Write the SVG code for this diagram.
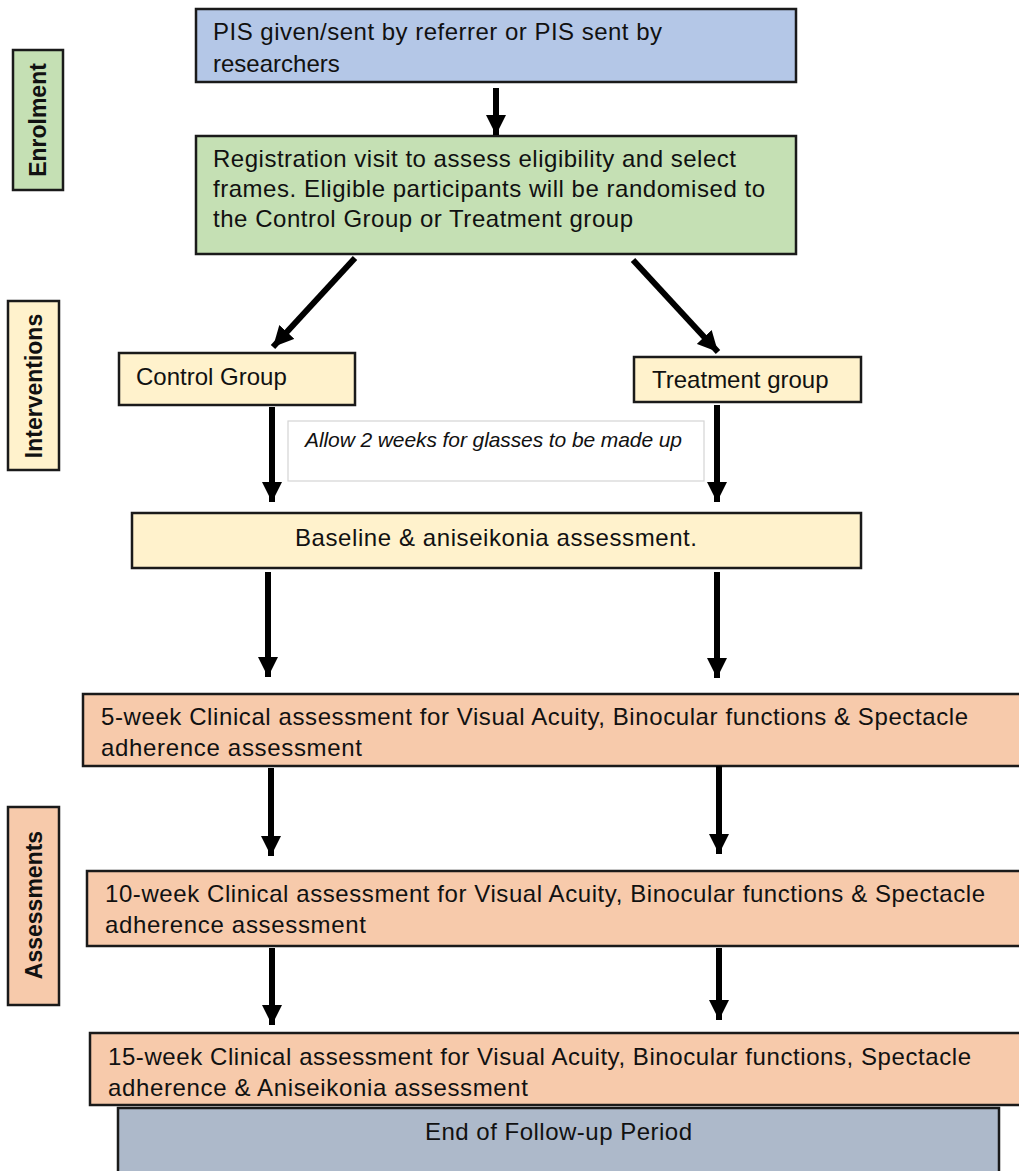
<svg xmlns="http://www.w3.org/2000/svg" width="1019" height="1171" viewBox="0 0 1019 1171">
<defs>
<style>
.box{stroke:#1a1a1a;stroke-width:2.5}
.blue{fill:#b4c7e7}
.green{fill:#c5e0b4}
.yellow{fill:#fff2cc}
.peach{fill:#f7caab}
.grey{fill:#adb9ca}
.t{font-family:"Liberation Sans",Arial,sans-serif;font-size:24px;fill:#111}
.lbl{font-family:"Liberation Sans",Arial,sans-serif;font-size:23px;font-weight:bold;fill:#111}
.it{font-family:"Liberation Sans",Arial,sans-serif;font-size:21px;font-style:italic;fill:#111}
.arr{stroke:#000;stroke-width:6;fill:none;marker-end:url(#ah)}
</style>
<marker id="ah" viewBox="0 0 10 10" refX="10" refY="5" markerWidth="3.4" markerHeight="3.4" orient="auto" markerUnits="strokeWidth">
<path d="M0,0 L10,5 L0,10 z" fill="#000"/>
</marker>
</defs>
<rect width="1019" height="1171" fill="#fff"/>

<g id="label-enrolment">
<rect class="box green" x="13" y="50" width="50" height="140"/>
<text class="lbl" transform="translate(46,120) rotate(-90)" text-anchor="middle">Enrolment</text>
</g>
<g id="label-interventions">
<rect class="box yellow" x="8" y="301" width="51" height="169"/>
<text class="lbl" transform="translate(42,386) rotate(-90)" text-anchor="middle">Interventions</text>
</g>
<g id="label-assessments">
<rect class="box peach" x="8" y="807" width="51" height="198"/>
<text class="lbl" transform="translate(42,905) rotate(-90)" text-anchor="middle">Assessments</text>
</g>

<g id="pis">
<rect class="box blue" x="196" y="9" width="600" height="73"/>
<text class="t" x="213" y="40" textLength="449" lengthAdjust="spacing">PIS given/sent by referrer or PIS sent by</text>
<text class="t" x="213" y="72">researchers</text>
</g>

<g id="registration">
<rect class="box green" x="196" y="136" width="600" height="118"/>
<text class="t" x="213" y="167" textLength="523" lengthAdjust="spacing">Registration visit to assess eligibility  and select</text>
<text class="t" x="213" y="197" textLength="552" lengthAdjust="spacing">frames. Eligible  participants will  be randomised to</text>
<text class="t" x="213" y="227" textLength="420" lengthAdjust="spacing">the Control Group or Treatment group</text>
</g>

<g id="control">
<rect class="box yellow" x="119" y="353" width="236" height="52"/>
<text class="t" x="136" y="385">Control Group</text>
</g>

<g id="treatment">
<rect class="box yellow" x="634" y="357" width="227" height="45"/>
<text class="t" x="652" y="388">Treatment group</text>
</g>

<g id="note">
<rect x="288" y="421" width="416" height="60" fill="#fff" stroke="#d4d4d4" stroke-width="1.2"/>
<text class="it" x="305" y="447" textLength="377" lengthAdjust="spacing">Allow 2 weeks for glasses to be made up</text>
</g>

<g id="baseline">
<rect class="box yellow" x="132" y="513" width="729" height="55"/>
<text class="t" x="295" y="546" textLength="402" lengthAdjust="spacing">Baseline  &amp; aniseikonia assessment.</text>
</g>

<g id="week5">
<rect class="box peach" x="83" y="694" width="940" height="72"/>
<text class="t" x="101" y="725" textLength="867" lengthAdjust="spacing">5-week Clinical  assessment for Visual Acuity, Binocular  functions &amp; Spectacle</text>
<text class="t" x="101" y="756" textLength="261" lengthAdjust="spacing">adherence assessment</text>
</g>

<g id="week10">
<rect class="box peach" x="87" y="871" width="936" height="75"/>
<text class="t" x="105" y="902" textLength="880" lengthAdjust="spacing">10-week Clinical  assessment for Visual Acuity, Binocular  functions &amp; Spectacle</text>
<text class="t" x="105" y="933" textLength="261" lengthAdjust="spacing">adherence assessment</text>
</g>

<g id="week15">
<rect class="box peach" x="90" y="1033" width="933" height="72"/>
<text class="t" x="108" y="1065" textLength="863" lengthAdjust="spacing">15-week Clinical  assessment for Visual Acuity, Binocular  functions, Spectacle</text>
<text class="t" x="108" y="1096" textLength="420" lengthAdjust="spacing">adherence &amp; Aniseikonia assessment</text>
</g>

<g id="end">
<rect class="box grey" x="118" y="1108" width="881" height="70"/>
<text class="t" x="425" y="1140" textLength="267" lengthAdjust="spacing">End of Follow-up  Period</text>
</g>

<g id="connectors">
<line class="arr" x1="496" y1="88" x2="496" y2="135"/>
<line class="arr" x1="355" y1="258" x2="273" y2="347"/>
<line class="arr" x1="633" y1="260" x2="718" y2="352"/>
<line class="arr" x1="272" y1="407" x2="272" y2="502"/>
<line class="arr" x1="717" y1="405" x2="717" y2="502"/>
<line class="arr" x1="268" y1="572" x2="268" y2="677"/>
<line class="arr" x1="717" y1="572" x2="717" y2="678"/>
<line class="arr" x1="271" y1="768" x2="271" y2="856"/>
<line class="arr" x1="719" y1="766" x2="719" y2="854"/>
<line class="arr" x1="272" y1="948" x2="272" y2="1025"/>
<line class="arr" x1="719" y1="948" x2="719" y2="1020"/>
</g>
</svg>
